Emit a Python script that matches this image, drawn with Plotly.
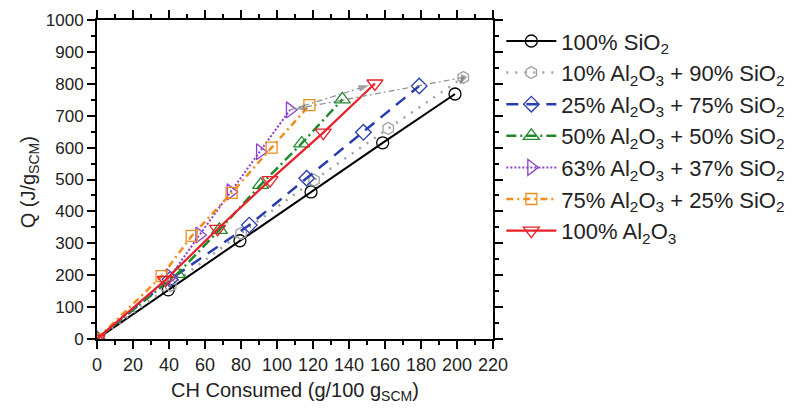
import plotly.graph_objects as go

# ---- data ----
names = ["100% SiO<sub>2</sub>",
         "10% Al<sub>2</sub>O<sub>3</sub> + 90% SiO<sub>2</sub>",
         "25% Al<sub>2</sub>O<sub>3</sub> + 75% SiO<sub>2</sub>",
         "50% Al<sub>2</sub>O<sub>3</sub> + 50% SiO<sub>2</sub>",
         "63% Al<sub>2</sub>O<sub>3</sub> + 37% SiO<sub>2</sub>",
         "75% Al<sub>2</sub>O<sub>3</sub> + 25% SiO<sub>2</sub>",
         "100% Al<sub>2</sub>O<sub>3</sub>"]

x_sio2 = [0, 39.6, 79.4, 118.9, 158.7, 198.9]
y_sio2 = [0, 154, 308, 461, 615, 768]

x_al10 = [0, 41, 80, 120.6, 161.8, 203.5]
y_al10 = [0, 168, 331, 498, 660, 820]

x_al25 = [0, 40.6, 84.6, 116.5, 148, 179]
y_al25 = [0, 187, 357, 504, 648, 793]

x_al50 = [0, 44.6, 68, 90.9, 113.7, 136.3]
y_al50 = [0, 204, 342, 483, 613, 751]

x_al63 = [0, 40.6, 56.9, 74.3, 90.6, 107.2]
y_al63 = [0, 195, 326, 461, 587, 718]

x_al75 = [0, 35.9, 52.6, 74.8, 97, 118]
y_al75 = [0, 197, 323, 458, 600, 733]

x_al100 = [0, 38, 67, 96.1, 125.7, 154.4]
y_al100 = [0, 185, 345, 498, 647, 801]

xs = [x_sio2, x_al10, x_al25, x_al50, x_al63, x_al75, x_al100]
ys = [y_sio2, y_al10, y_al25, y_al50, y_al63, y_al75, y_al100]

x_title = "CH Consumed (g/100 g<sub>SCM</sub>)"
y_title = "Q (J/g<sub>SCM</sub>)"

colors = ["#000000", "#a0a0a0", "#2a3db0", "#1e8a2a", "#8a3fd0", "#f28c1c", "#e8202a"]
dashes = ["solid", "2px,7px", "12px,8px", "10px,4px,2px,4px", "2px,2px", "7px,4px,2px,4px", "solid"]
symbols = ["circle-open", "hexagon-open", "diamond-open", "triangle-up-open",
           "triangle-right-open", "square-open", "triangle-down-open"]
sizes = [12, 12, 12, 14, 14, 11, 14]
widths = [2, 2.5, 2.5, 2.5, 2, 2.5, 2.2]

FONT = "Liberation Sans, Arial, sans-serif"

fig = go.Figure()
for i in range(7):
    fig.add_trace(go.Scatter(
        x=xs[i], y=ys[i], name=names[i], mode="lines+markers",
        line=dict(color=colors[i], width=widths[i], dash=dashes[i]),
        marker=dict(symbol=symbols[i], size=sizes[i], color=colors[i],
                    line=dict(width=1.3, color=colors[i])),
        legendgroup=str(i),
    ))

# gray trend arrows (dash-dot lines with arrowheads), from series end points
def arrow(x0, y0, x1, y1, frac=1.0):
    xe = x0 + (x1 - x0) * frac
    ye = y0 + (y1 - y0) * frac
    fig.add_trace(go.Scatter(
        x=[x0, xe], y=[y0, ye], mode="lines+markers", showlegend=False,
        hoverinfo="skip",
        line=dict(color="#8c8c8c", width=1.2, dash="6px,3px,2px,3px"),
        marker=dict(symbol=["circle", "arrow"], size=[0, 11], color="#7a7a7a",
                    angleref="previous", line=dict(width=0)),
    ))

arrow(x_al10[-1], y_al10[-1], x_al63[-1], y_al63[-1], 0.97)
arrow(x_al63[-1], y_al63[-1], x_al100[-1], y_al100[-1], 0.93)
arrow(x_al10[-1], y_al10[-1], x_sio2[-1], y_sio2[-1], 0.45)

axis_common = dict(
    showline=True, linecolor="black", linewidth=2, mirror="ticks",
    ticks="outside", ticklen=8, tickwidth=1.5, tickcolor="black",
    showgrid=False, zeroline=False, automargin=False,
)

fig.update_xaxes(range=[0, 220], dtick=20, tick0=0,
                 tickfont=dict(family=FONT, size=18, color="#222"),
                 minor=dict(ticks="outside", ticklen=4, dtick=10, tickwidth=1.5, tickcolor="black"),
                 **axis_common)
fig.update_yaxes(range=[0, 1000], dtick=100, tick0=0,
                 tickfont=dict(family=FONT, size=17, color="#222"),
                 minor=dict(ticks="outside", ticklen=4, dtick=50, tickwidth=1.5, tickcolor="black"),
                 **axis_common)

fig.add_annotation(text=x_title, xref="paper", yref="paper", x=0.5, y=-0.165,
                   xanchor="center", yanchor="middle", showarrow=False,
                   font=dict(family=FONT, size=20, color="#222"))
fig.add_annotation(text=y_title, xref="paper", yref="paper", x=-0.17, y=0.49,
                   xanchor="center", yanchor="middle", showarrow=False, textangle=-90,
                   font=dict(family=FONT, size=20, color="#222"))

fig.update_layout(
    width=792, height=412,
    margin=dict(l=97, r=299, t=20, b=73),
    plot_bgcolor="white", paper_bgcolor="white",
    font=dict(family=FONT, color="#222"),
    legend=dict(xref="container", yref="container", x=0.633, y=0.951,
                xanchor="left", yanchor="top", maxheight=400,
                font=dict(family=FONT, size=22, color="#222"),
                itemwidth=50, traceorder="grouped", tracegroupgap=0,
                bgcolor="rgba(0,0,0,0)"),
)

fig.write_html("out.html")
